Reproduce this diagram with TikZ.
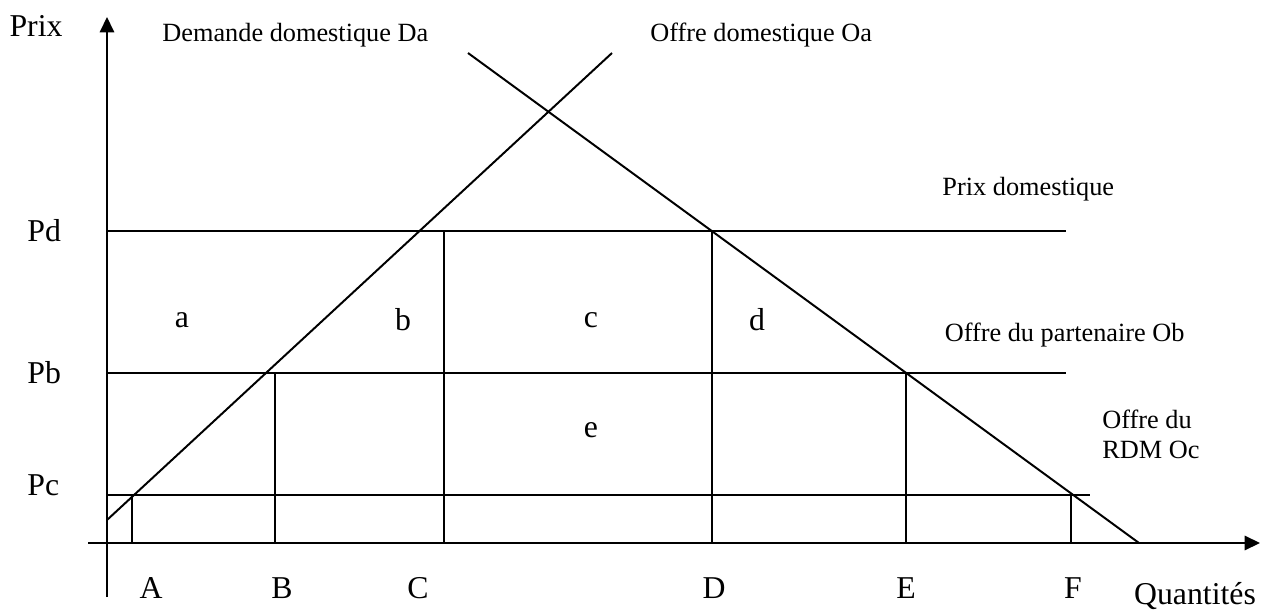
\documentclass[tikz,border=0pt]{standalone}
\usepackage{fontspec}
\setmainfont{Liberation Serif}
\usetikzlibrary{arrows.meta, positioning, calc}

\begin{document}
\begin{tikzpicture}[
      x=0.01604cm, y=-0.01604cm,
      curve/.style={line width=0.9pt},
      level/.style={line width=0.9pt},
      drop/.style={line width=0.9pt},
      axis/.style={line width=1.1pt, -{Triangle[length=7pt, width=6.5pt]}},
      lbl/.style={font=\fontsize{12}{14}\selectfont, inner sep=0pt},
      big/.style={font=\fontsize{14.5}{17}\selectfont, inner sep=0pt}
    ]
    \useasboundingbox (0,0) rectangle (1280,610);

    \coordinate (o) at (107,543);
    \coordinate (ybot) at (107,597);
    \coordinate (ytop) at (107,17);
    \coordinate (xleft) at (88,543);
    \coordinate (xright) at (1260,543);

    \coordinate (pd0) at (107,231);
    \coordinate (pd1) at (1066,231);
    \coordinate (pb0) at (107,373);
    \coordinate (pb1) at (1066,373);
    \coordinate (pc0) at (107,495);
    \coordinate (pc1) at (1090,495);

    \coordinate (oa0) at (107,520);
    \coordinate (oa1) at (612,53);
    \coordinate (da0) at (468,53);
    \coordinate (da1) at (1139,543);

    \draw[axis] (ybot) -- (ytop);
    \draw[axis] (xleft) -- (xright);

    \draw[level] (pd0) -- (pd1);
    \draw[level] (pb0) -- (pb1);
    \draw[level] (pc0) -- (pc1);

    \draw[curve] (oa0) -- (oa1);
    \draw[curve] (da0) -- (da1);

    \foreach \name/\x/\y in {A/132/495, B/275/373, C/444/231, D/712/231, E/906/373, F/1071/495} {
      \coordinate (top\name) at (\x,\y);
      \draw[drop] (top\name) -- (top\name |- o);
    }

    \foreach \name/\x in {A/151, B/282, C/418, D/714, E/906, F/1073}
      \node[big, anchor=base] (lab\name) at (\x,598) {\name};

    \node[big, anchor=base] (prix) at (36,37) {Prix};
    \node[big, anchor=base] (quant) at (1195,604) {Quantités};

    \node[big, anchor=west] (pd) at (27,231) {Pd};
    \node[big, anchor=west] (pb) at (27,373) {Pb};
    \node[big, anchor=west] (pc) at (27,485) {Pc};

    \node[lbl, anchor=base west] (da) at (162,42) {Demande domestique Da};
    \node[lbl, anchor=base west] (oa) at (650,42) {Offre domestique Oa};
    \node[lbl, anchor=base west] (pdom) at (942,196) {Prix domestique};
    \node[lbl, anchor=base east] (ob) at (1185,342) {Offre du partenaire Ob};
    \node[lbl, anchor=base west] (oc1) at (1102,429) {Offre du};
    \node[lbl, anchor=base west] (oc2) at (1102,459) {RDM Oc};

    \node[big] (a) at (182,320) {a};
    \node[big] (b) at (403,320) {b};
    \node[big] (c) at (591,320) {c};
    \node[big] (d) at (757,320) {d};
    \node[big] (e) at (591,430) {e};
  \end{tikzpicture}
\end{document}
